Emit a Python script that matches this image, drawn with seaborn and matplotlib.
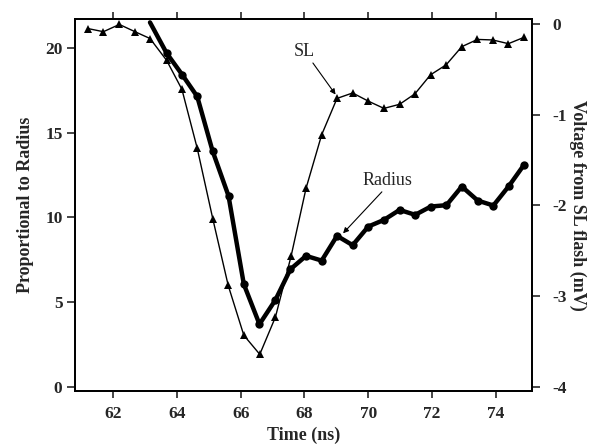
import matplotlib
matplotlib.use("Agg")
import matplotlib.pyplot as plt
import seaborn as sns
import pandas as pd

sl_time = [61.21, 61.70, 62.20, 62.69, 63.16, 63.68, 64.16, 64.64, 65.13, 65.61,
           66.10, 66.60, 67.09, 67.58, 68.05, 68.54, 69.02, 69.51, 70.00, 70.49,
           70.98, 71.46, 71.95, 72.44, 72.93, 73.42, 73.90, 74.39, 74.88]
sl_volt = [-0.05, -0.085, -0.005, -0.085, -0.16, -0.40, -0.72, -1.37, -2.15, -2.88,
           -3.43, -3.64, -3.23, -2.56, -1.81, -1.22, -0.82, -0.76, -0.85, -0.93,
           -0.885, -0.77, -0.56, -0.45, -0.25, -0.17, -0.176, -0.217, -0.147]

rad_time = [63.16, 63.68, 64.17, 64.64, 65.12, 65.62, 66.10, 66.59, 67.09, 67.56,
            68.05, 68.54, 69.02, 69.51, 70.00, 70.49, 70.98, 71.47, 71.96, 72.45,
            72.93, 73.43, 73.92, 74.41, 74.88]
rad_val = [21.5, 19.69, 18.41, 17.13, 13.92, 11.27, 6.06, 3.70, 5.13, 6.94,
           7.73, 7.45, 8.91, 8.36, 9.46, 9.85, 10.44, 10.15, 10.64, 10.72,
           11.82, 10.99, 10.70, 11.86, 13.10]

x_ticks = [62, 64, 66, 68, 70, 72, 74]
left_ticks = [0, 5, 10, 15, 20]
right_ticks = [0, -1, -2, -3, -4]

sns.set_style("ticks")
plt.rcParams['font.family'] = ['Liberation Serif', 'DejaVu Serif']

fig = plt.figure(figsize=(6, 4.44), dpi=100)
ax = fig.add_axes([75/600, 1-391/444, (532-75)/600, (391-19)/444])
ax2 = ax.twinx()

sl_df = pd.DataFrame({"t": sl_time, "v": sl_volt})
rad_df = pd.DataFrame({"t": rad_time, "r": rad_val})

sns.lineplot(data=sl_df, x="t", y="v", ax=ax2, color="black", lw=1.0,
             marker="^", markersize=6, markeredgewidth=0, estimator=None, sort=False)
sns.lineplot(data=rad_df, x="t", y="r", ax=ax, color="black", lw=3.2,
             marker="o", markersize=6, markeredgewidth=0, estimator=None, sort=False,
             markevery=list(range(1, len(rad_time))))

ax.set_zorder(ax2.get_zorder() + 1)
ax.patch.set_visible(False)

ax.set_xlim(60.81, 75.13)
ax.set_ylim(-0.24, 21.7)
ax2.set_ylim(-4.044, 0.055)

fs_tick = 12.5
ax.set_xticks(x_ticks)
ax.set_xticklabels([str(v) for v in x_ticks], fontweight="bold", fontsize=fs_tick)
ax.set_yticks(left_ticks)
ax.set_yticklabels([str(v) for v in left_ticks], fontweight="bold", fontsize=fs_tick)
ax2.set_yticks(right_ticks)
ax2.set_yticklabels([str(v) for v in right_ticks], fontweight="bold", fontsize=fs_tick)

ax.tick_params(axis="x", which="both", top=True, bottom=True, direction="out",
               length=5, width=1.2, labeltop=False, pad=6)
ax.tick_params(axis="y", direction="out", length=6, width=1.2, pad=3)
ax2.tick_params(axis="y", direction="out", length=6, width=1.2, pad=9)

for a in (ax, ax2):
    for s in a.spines.values():
        s.set_visible(True)
        s.set_linewidth(1.3)
        s.set_color("black")

ax.set_xlabel("Time (ns)", fontweight="bold", fontsize=13, labelpad=3)
ax.set_ylabel("Proportional to Radius", fontweight="bold", fontsize=13, labelpad=8)
ax2.set_ylabel("Voltage from SL flash (mV)", fontweight="bold", fontsize=13,
               rotation=270, labelpad=14)

ax2.annotate("SL", xy=(69.0, -0.79), xytext=(68.0, -0.30), fontsize=13,
             ha="center", va="center",
             arrowprops=dict(arrowstyle="-|>", color="black", lw=0.8,
                             mutation_scale=8, shrinkA=0, shrinkB=1))
ax.annotate("Radius", xy=(69.18, 9.0), xytext=(70.6, 12.2), fontsize=13,
            ha="center", va="center",
            arrowprops=dict(arrowstyle="-|>", color="black", lw=0.8,
                            mutation_scale=8, shrinkA=0, shrinkB=1,
                            relpos=(0.45, 0.0)))

fig.savefig("out.png", dpi=100)
